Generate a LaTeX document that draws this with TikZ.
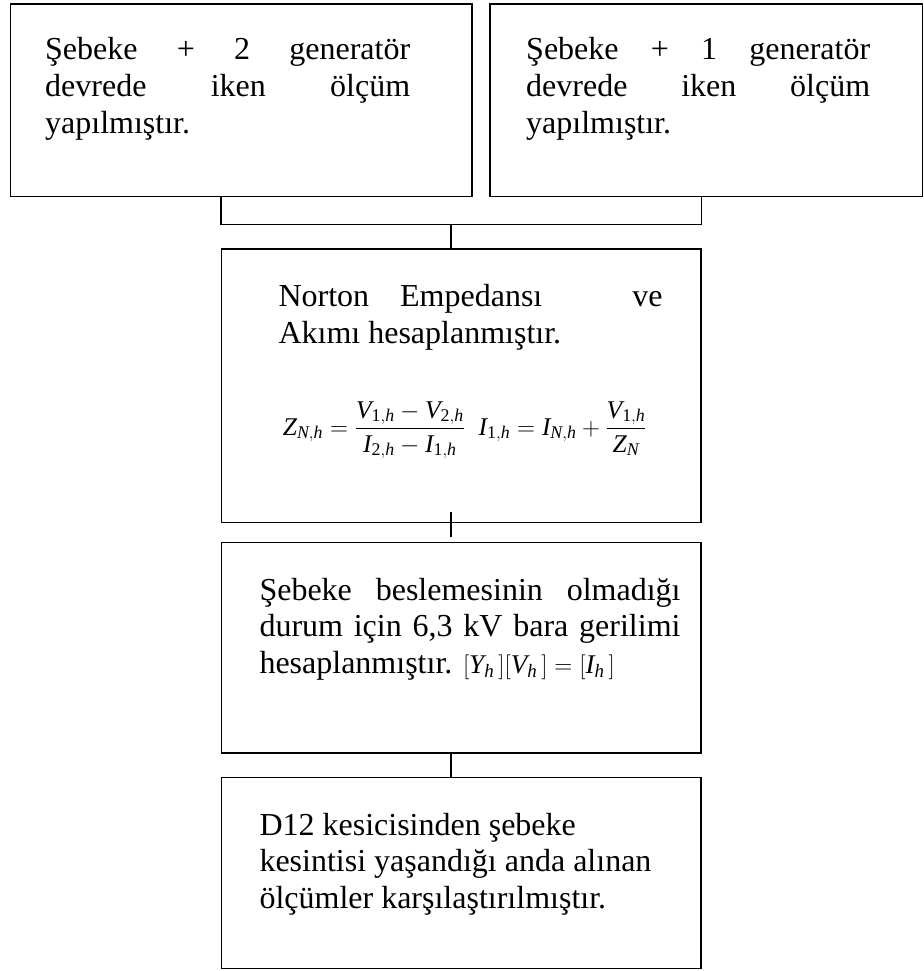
\documentclass[tikz,border=0pt]{standalone}
\usepackage{amsmath}
\usepackage{fontspec}
\setmainfont{Liberation Serif}
\tikzset{
  boxshape/.style={draw=black, line width=1.6pt, rectangle, inner sep=0pt, anchor=north west},
  conn/.style={draw=black, line width=1.6pt},
  txt/.style={inner sep=0pt, anchor=base west, font=\fontsize{32}{36.7}\selectfont},
}
\newcommand{\fillline}[2]{\makebox[#1][s]{#2}}
\newcommand{\mi}[1]{\mathit{#1}}
\newcommand{\mr}[1]{\mathrm{#1}}
\begin{document}
\begin{tikzpicture}[x=1pt,y=-1pt]
\useasboundingbox (0,0) rectangle (923,971);
% boxes
\node[boxshape, minimum width=461.5pt, minimum height=192.2pt] (tl) at (9.5,3.5) {};
\node[boxshape, minimum width=432.5pt, minimum height=192.2pt] (tr) at (489,3.5) {};
\node[boxshape, minimum width=479.3pt, minimum height=273.7pt] (b1) at (220.7,248) {};
\node[boxshape, minimum width=479.3pt, minimum height=210.6pt] (b2) at (220.7,541.7) {};
\node[boxshape, minimum width=479.3pt, minimum height=191pt] (b3) at (220.7,776.7) {};
% connectors
\coordinate (j) at (450.7,224.3);
\draw[conn] (b1.north west |- tl.south) |- (j) -| (b1.north east |- tr.south);
\draw[conn] (j) -- (j |- b1.north);
\coordinate (t1) at (450.7,511.7);
\coordinate (t2) at (450.7,536.7);
\draw[conn] (t1) -- (t2);
\draw[conn] (b2.south -| j) -- (b3.north -| j);
% texts
\node[txt] (tltext) at (45,60) {\parbox[t]{365pt}{\fontsize{32}{36.7}\selectfont
  \fillline{365pt}{Şebeke + 2 generatör}\\
  \fillline{365pt}{devrede iken ölçüm}\\
  yapılmıştır.}};
\node[txt] (trtext) at (526,60) {\parbox[t]{344pt}{\fontsize{32}{36.7}\selectfont
  \fillline{344pt}{Şebeke + 1 generatör}\\
  \fillline{344pt}{devrede iken ölçüm}\\
  yapılmıştır.}};
\node[txt] (b1text) at (278.3,306.7) {\parbox[t]{384pt}{\fontsize{32}{36.7}\selectfont
  \makebox[384pt][l]{Norton\hspace{31pt}Empedansı\hfill ve}\\
  Akımı hesaplanmıştır.}};
\node[inner sep=0pt, anchor=base west, font=\fontsize{25.5}{30}\selectfont] (b1math) at (282.7,435)
  {$\displaystyle \mi{Z}_{\mi{N},\mi{h}}=\frac{\mi{V}_{\mr{1},\mi{h}}-\mi{V}_{\mr{2},\mi{h}}}{\mi{I}_{\mr{2},\mi{h}}-\mi{I}_{\mr{1},\mi{h}}}\;\; \mi{I}_{\mr{1},\mi{h}}=\mi{I}_{\mi{N},\mi{h}}+\frac{\mi{V}_{\mr{1},\mi{h}}}{\mi{Z}_{\mi{N}}}$};
\node[txt] (b2text) at (259.3,600) {\parbox[t]{421pt}{\fontsize{32}{36.7}\selectfont
  \fillline{421pt}{Şebeke beslemesinin olmadığı}\\
  \fillline{421pt}{durum için 6,3 kV bara gerilimi}\\
  hesaplanmıştır. {\fontsize{27}{31}\selectfont$[\mi{Y}_{\mi{h}}\,][\mi{V}_{\mi{h}}\,]=[\mi{I}_{\mi{h}}\,]$}}};
\node[txt] (b3text) at (259.3,835) {\parbox[t]{421pt}{\fontsize{32}{36.7}\selectfont\raggedright
  D12 kesicisinden şebeke\\
  kesintisi yaşandığı anda alınan\\
  ölçümler karşılaştırılmıştır.}};
\end{tikzpicture}
\end{document}
